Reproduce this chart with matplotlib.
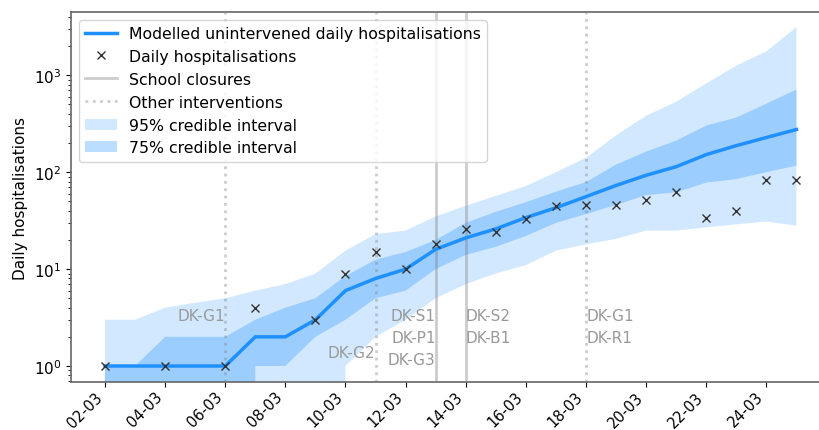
import matplotlib
matplotlib.use("Agg")
import matplotlib.pyplot as plt
import matplotlib.dates as mdates
import numpy as np
import pandas as pd

dates = ["2020-03-02", "2020-03-03", "2020-03-04", "2020-03-05", "2020-03-06",
         "2020-03-07", "2020-03-08", "2020-03-09", "2020-03-10", "2020-03-11",
         "2020-03-12", "2020-03-13", "2020-03-14", "2020-03-15", "2020-03-16",
         "2020-03-17", "2020-03-18", "2020-03-19", "2020-03-20", "2020-03-21",
         "2020-03-22", "2020-03-23", "2020-03-24", "2020-03-25"]

observed = [1, 0, 1, 0, 1, 4, 0, 3, 9, 15, 10, 18, 26, 24, 33, 45, 46, 46, 52, 63,
            34, 40, 84, 84]

median = [1, 1, 1, 1, 1, 2, 2, 3, 6, 8, 10, 16, 21, 26, 34, 43, 56, 73, 93, 114,
          152, 188, 228, 276]

lower75 = [0, 0, 0, 0, 0, 1, 1, 2, 3, 5, 6, 10, 14, 17, 22, 30, 37, 46, 58, 62,
           78, 85, 100, 117]
upper75 = [1, 1, 2, 2, 2, 3, 4, 5, 8.5, 12.5, 15, 20, 30, 39, 49, 63, 79, 120, 163,
           212, 303, 366, 510, 713]

lower95 = [0, 0, 0, 0, 0, 0, 0, 0, 1, 2, 3, 5, 7, 9, 11, 15.5, 18, 20.5, 25, 25,
           27, 29, 31, 28]
upper95 = [3, 3, 4, 4.5, 5, 6, 7, 9, 15.5, 23, 25, 35, 45, 57, 72, 100, 141, 240,
           382, 535, 825, 1260, 1770, 3150]

school_closures = ["2020-03-13", "2020-03-14"]
other_interventions = ["2020-03-06", "2020-03-11", "2020-03-18"]

labels_text = ["DK-G1", "DK-G2", "DK-S1\nDK-P1\nDK-G3", "DK-S2\nDK-B1", "DK-G1\nDK-R1"]
labels_date = ["2020-03-06", "2020-03-11", "2020-03-13", "2020-03-14", "2020-03-18"]
labels_y = [4.0, 1.65, 4.0, 4.0, 4.0]
labels_ha = ["right", "right", "right", "left", "left"]

t = pd.to_datetime(dates)
obs = np.array(observed, dtype=float)
obs_plot = np.where(obs > 0, obs, np.nan)

fig = plt.figure(figsize=(8.19, 4.31), dpi=100)
ax = fig.add_axes([0.0867, 0.1114, 0.9133, 0.8584])

blue = "#1E90FF"
ax.fill_between(t, lower95, upper95, color=blue, alpha=0.2, lw=0,
                label="95% credible interval")
ax.fill_between(t, lower75, upper75, color=blue, alpha=0.3, lw=0,
                label="75% credible interval")
ax.plot(t, median, color=blue, lw=2.5,
        label="Modelled unintervened daily hospitalisations", zorder=4)
ax.plot(t, obs_plot, "x", color="#333333", ms=6, mew=1.0,
        label="Daily hospitalisations", zorder=5)

for i, d in enumerate(school_closures):
    ax.axvline(pd.Timestamp(d), color="gray", alpha=0.4, lw=2, ls="-",
               label="School closures" if i == 0 else None, zorder=3)
for i, d in enumerate(other_interventions):
    ax.axvline(pd.Timestamp(d), color="gray", alpha=0.4, lw=2, ls=":",
               label="Other interventions" if i == 0 else None, zorder=3)

for txt, d, yv, ha in zip(labels_text, labels_date, labels_y, labels_ha):
    ax.text(pd.Timestamp(d), yv, txt, ha=ha, va="top", fontsize=11,
            color="#999999", linespacing=1.6)

ax.set_yscale("log")
ax.set_ylim(0.684, 4500)
ax.set_xlim(t[0] - pd.Timedelta(days=1.13), t[0] + pd.Timedelta(days=23.75))

ax.xaxis.set_major_locator(mdates.DayLocator(bymonthday=range(2, 32, 2)))
ax.xaxis.set_major_formatter(mdates.DateFormatter("%d-%m"))
ax.tick_params(axis="y", labelsize=11)
ax.tick_params(axis="x", labelsize=10.5, pad=1.5)
plt.setp(ax.get_xticklabels(), rotation=45, ha="right")
ax.set_ylabel("Daily hospitalisations", fontsize=11)

for s in ["left", "bottom", "top"]:
    ax.spines[s].set_color("#666666")
    ax.spines[s].set_linewidth(1.2)
ax.spines["right"].set_visible(False)

handles, labels = ax.get_legend_handles_labels()
order = ["Modelled unintervened daily hospitalisations", "Daily hospitalisations",
         "School closures", "Other interventions", "95% credible interval",
         "75% credible interval"]
hmap = dict(zip(labels, handles))
ax.legend([hmap[k] for k in order], order, loc="upper left", fontsize=11.3)

fig.savefig("out.png", dpi=100)
